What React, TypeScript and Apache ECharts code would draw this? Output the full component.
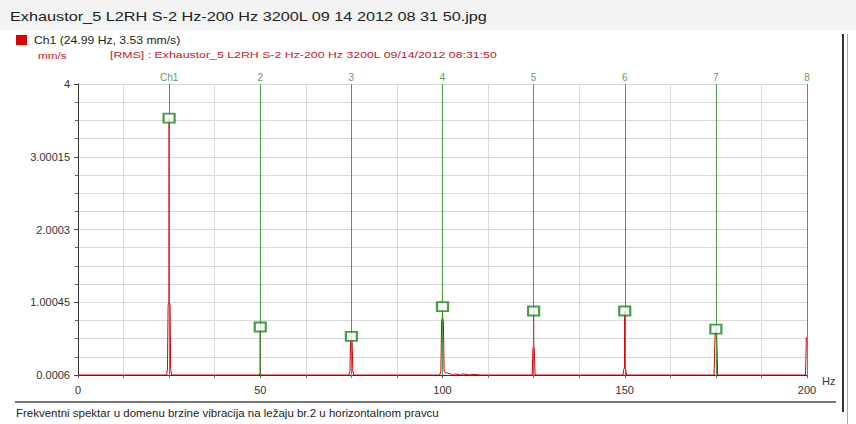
import React, { useEffect, useRef } from "react";
import * as echarts from "echarts";

const FONT = "Liberation Sans, Arial, sans-serif";

const titleText = "Exhaustor_5 L2RH S-2 Hz-200 Hz 3200L 09 14 2012 08 31 50.jpg";
const legendText = "Ch1 (24.99 Hz, 3.53 mm/s)";
const unitText = "mm/s";
const infoText = "[RMS] : Exhaustor_5 L2RH S-2 Hz-200 Hz 3200L 09/14/2012 08:31:50";
const captionText = "Frekventni spektar u domenu brzine vibracija na ležaju br.2 u horizontalnom pravcu";

const yTickLabels = ["0.0006", "1.00045", "2.0003", "3.00015", "4"];

const harmonicFreqs = [25, 50, 75, 100, 125, 150, 175, 200];
const harmonicLabels = ["Ch1", "2", "3", "4", "5", "6", "7", "8"];

const markerFreqs = [24.99, 50, 75, 100, 125, 150, 175];
const markerValues = [3.53, 0.66, 0.53, 0.94, 0.88, 0.88, 0.63];

const spectrumFreqs = [
  0, 24.3, 24.55, 24.72, 24.96, 25.0, 25.04, 25.26, 25.42, 25.7,
  49.7, 49.9, 49.98, 50.0, 50.02, 50.1, 50.3,
  74.3, 74.6, 74.8, 74.96, 75.0, 75.04, 75.2, 75.4, 75.7,
  99.2, 99.55, 99.76, 99.96, 100.0, 100.04, 100.24, 100.45, 101, 102, 103, 103.5, 105, 105.5, 107.5, 108, 110.5, 111,
  124.6, 124.82, 124.96, 125.0, 125.04, 125.18, 125.4,
  149.5, 149.75, 149.96, 150.0, 150.04, 150.25, 150.5,
  174.5, 174.8, 174.96, 175.0, 175.04, 175.2, 175.5,
  199.6, 199.82, 200,
];
const spectrumValues = [
  0, 0, 0.08, 0.96, 1.0, 3.53, 1.0, 0.96, 0.08, 0,
  0, 0.02, 0.05, 0.66, 0.05, 0.02, 0,
  0, 0.05, 0.47, 0.5, 0.53, 0.5, 0.47, 0.05, 0,
  0, 0.05, 0.75, 0.78, 0.94, 0.78, 0.75, 0.05, 0.03, 0.02, 0, 0.015, 0, 0.015, 0, 0.01, 0, 0,
  0, 0.36, 0.39, 0.88, 0.39, 0.36, 0,
  0, 0.08, 0.1, 0.88, 0.1, 0.08, 0,
  0, 0.58, 0.6, 0.63, 0.6, 0.58, 0,
  0, 0.52, 0.52,
];

export default function App() {
  const ref = useRef<HTMLDivElement>(null);

  useEffect(() => {
    if (!ref.current) return;
    document.body.style.margin = "0";
    const chart = echarts.init(ref.current, null, { renderer: "svg" });

    const spectrumData = spectrumFreqs.map((f, i) => [f, spectrumValues[i]]);
    const markerData = markerFreqs.map((f, i) => [f, markerValues[i]]);

    chart.setOption({
      animation: false,
      backgroundColor: "#ffffff",
      textStyle: { fontFamily: FONT },
      grid: { left: 78, right: 49, top: 84, bottom: 49, containLabel: false },
      legend: { show: false },
      xAxis: {
        type: "value",
        min: 0,
        max: 200,
        interval: 50,
        name: "Hz",
        nameLocation: "end",
        nameGap: 12,
        nameTextStyle: { fontSize: 11, color: "#333", fontFamily: FONT, verticalAlign: "top", padding: [0, 0, 0, 0] },
        axisLine: { show: true, lineStyle: { color: "#333", width: 1 } },
        axisTick: { show: true, length: 3, lineStyle: { color: "#555" } },
        minorTick: { show: true, splitNumber: 4, length: 3, lineStyle: { color: "#777" } },
        axisLabel: { fontSize: 11, color: "#333", margin: 9, fontFamily: FONT },
        splitLine: { show: true, lineStyle: { color: "#d9d9d9" } },
        minorSplitLine: { show: true, lineStyle: { color: "#d9d9d9" } },
      },
      yAxis: {
        type: "value",
        min: 0,
        max: 4,
        interval: 1,
        axisLine: { show: true, lineStyle: { color: "#333", width: 1 } },
        axisTick: { show: true, length: 4, lineStyle: { color: "#444" } },
        minorTick: { show: true, splitNumber: 4, length: 3, lineStyle: { color: "#666" } },
        axisLabel: {
          fontSize: 11,
          color: "#333",
          margin: 8,
          fontFamily: FONT,
          formatter: (v: number) => yTickLabels[Math.round(v)] ?? "",
        },
        splitLine: { show: true, lineStyle: { color: "#d9d9d9" } },
        minorSplitLine: { show: true, lineStyle: { color: "#d9d9d9" } },
      },
      series: [
        {
          name: "Ch1",
          type: "line",
          data: spectrumData,
          showSymbol: false,
          symbol: "none",
          z: 2,
          itemStyle: { color: "#e00000" },
          lineStyle: { color: "#d40000", width: 1 },
        },
        {
          name: "cursors",
          type: "line",
          data: [],
          z: 3,
          silent: true,
          markLine: {
            silent: true,
            symbol: ["none", "none"],
            animation: false,
            lineStyle: { color: "#2e962e", width: 1, type: "solid", opacity: 0.85 },
            label: {
              show: true,
              position: "end",
              distance: 2,
              formatter: "{b}",
              color: "#3a8a3a",
              fontSize: 10,
              fontFamily: FONT,
            },
            data: harmonicFreqs.map((f, i) => ({ xAxis: f, name: harmonicLabels[i] })),
          },
        },
        {
          name: "markers",
          type: "scatter",
          data: markerData,
          symbol: "rect",
          symbolSize: [11, 9],
          z: 5,
          itemStyle: { color: "#ffffff", borderColor: "#16861a", borderWidth: 2 },
        },
      ],
      graphic: [
        { type: "rect", x: 0, y: 0, shape: { width: 856, height: 30 }, style: { fill: "#f3f3f3" }, z: -1 },
        {
          type: "text", x: 10, y: 17, scaleX: 1.25,
          style: { text: titleText, fontSize: 13, fill: "#222", fontFamily: FONT, textVerticalAlign: "middle" },
        },
        { type: "rect", x: 16, y: 35, shape: { width: 11, height: 10 }, style: { fill: "#e00000" } },
        {
          type: "text", x: 34, y: 40, scaleX: 1.22,
          style: { text: legendText, fontSize: 10, fill: "#222", fontFamily: FONT, textVerticalAlign: "middle" },
        },
        {
          type: "text", x: 38, y: 55, scaleX: 1.24,
          style: { text: unitText, fontSize: 9.5, fill: "#c0202a", fontFamily: FONT, textVerticalAlign: "middle" },
        },
        {
          type: "text", x: 110, y: 55, scaleX: 1.3,
          style: { text: infoText, fontSize: 9.5, fill: "#c0202a", fontFamily: FONT, textVerticalAlign: "middle" },
        },
        { type: "line", shape: { x1: 15, y1: 402, x2: 836, y2: 402 }, style: { stroke: "#777", lineWidth: 2 } },
        { type: "line", shape: { x1: 843, y1: 34, x2: 843, y2: 412 }, style: { stroke: "#333", lineWidth: 2 } },
        { type: "line", shape: { x1: 847.5, y1: 34, x2: 847.5, y2: 424 }, style: { stroke: "#aaa", lineWidth: 1 } },
        {
          type: "text", x: 16, y: 413, scaleX: 1.15,
          style: { text: captionText, fontSize: 10, fill: "#222", fontFamily: FONT, textVerticalAlign: "middle" },
        },
      ],
    });

    return () => chart.dispose();
  }, []);

  return (
    <div
      ref={ref}
      style={{ position: "fixed", left: 0, top: 0, width: 856, height: 424 }}
    />
  );
}
